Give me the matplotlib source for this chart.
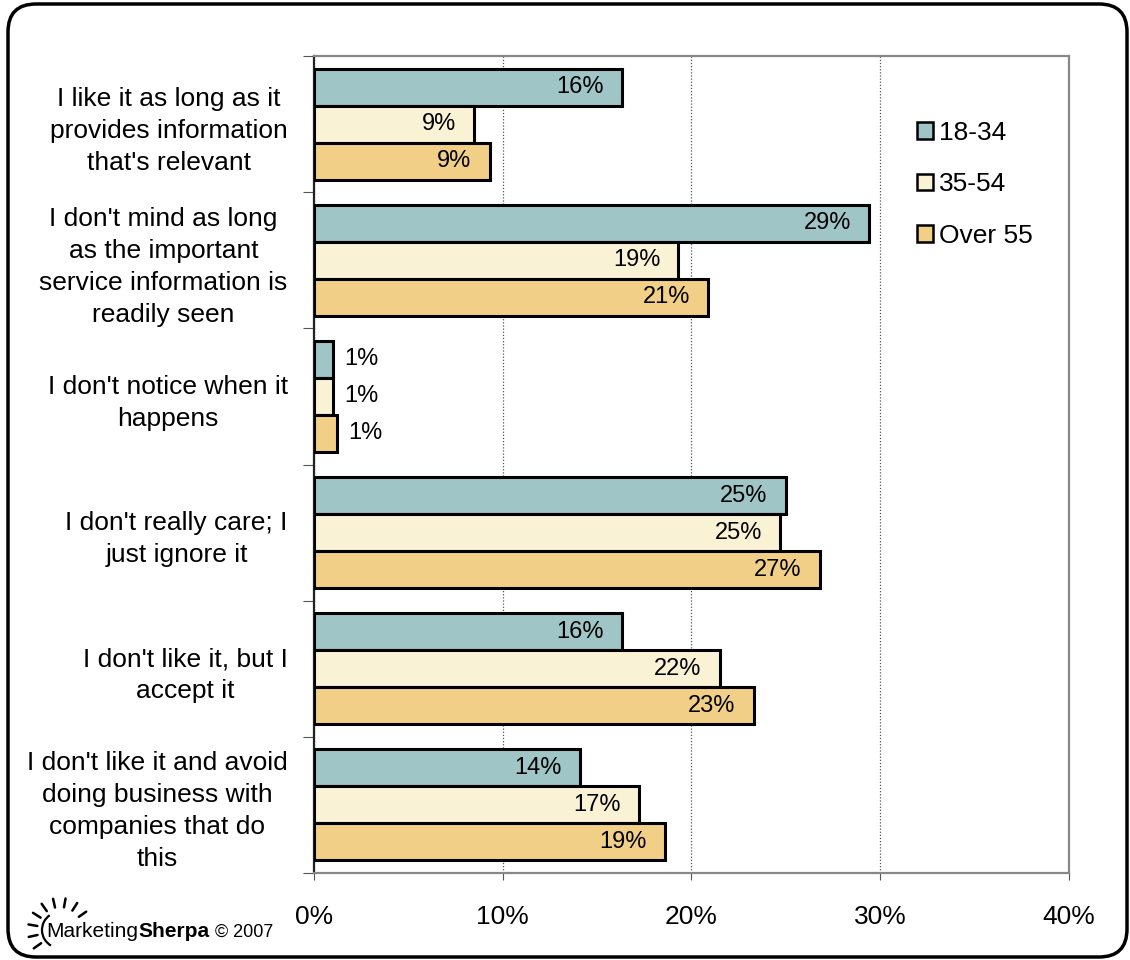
import matplotlib.pyplot as plt
from matplotlib.patches import FancyBboxPatch, Arc
import numpy as np

plt.rcParams['font.family'] = ['Liberation Sans', 'DejaVu Sans']

categories = [
    "I like it as long as it\nprovides information\nthat's relevant",
    "I don't mind as long\nas the important\nservice information is\nreadily seen",
    "I don't notice when it\nhappens",
    "I don't really care; I\njust ignore it",
    "I don't like it, but I\naccept it",
    "I don't like it and avoid\ndoing business with\ncompanies that do\nthis",
]
series = ["18-34", "35-54", "Over 55"]
v_18_34 = [16.3, 29.4, 1.0, 25.0, 16.3, 14.1]
v_35_54 = [8.5, 19.3, 1.0, 24.7, 21.5, 17.2]
v_over55 = [9.3, 20.9, 1.2, 26.8, 23.3, 18.6]
labels_18_34 = ["16%", "29%", "1%", "25%", "16%", "14%"]
labels_35_54 = ["9%", "19%", "1%", "25%", "22%", "17%"]
labels_over55 = ["9%", "21%", "1%", "27%", "23%", "19%"]
colors = ["#9fc5c7", "#faf2d5", "#f2cf86"]

fig = plt.figure(figsize=(11.3, 9.6), dpi=100)

# overlay in pixel units for frame and logo
deco = fig.add_axes([0, 0, 1, 1])
deco.set_xlim(0, 1130)
deco.set_ylim(960, 0)
deco.axis('off')
deco.add_patch(FancyBboxPatch((8, 4), 1119, 953,
                              boxstyle="round,pad=0,rounding_size=28",
                              fill=False, edgecolor='black', linewidth=2.5))
cx, cy = 60, 930
for ang in np.linspace(35, 215, 9):
    a = np.radians(ang)
    deco.plot([cx + 23 * np.cos(a), cx + 32 * np.cos(a)],
              [cy - 23 * np.sin(a), cy - 32 * np.sin(a)],
              color='black', linewidth=1.8, solid_capstyle='round')
deco.add_patch(Arc((cx, cy), 36, 36, theta1=120, theta2=235,
                   color='black', linewidth=1.6))
t1 = deco.text(46, 937, "Marketing", fontsize=15, va='baseline')
fig.canvas.draw()
bb = t1.get_window_extent().transformed(deco.transData.inverted())
t2 = deco.text(bb.x1, 937, "Sherpa", fontsize=15, fontweight='bold', va='baseline')
fig.canvas.draw()
bb2 = t2.get_window_extent().transformed(deco.transData.inverted())
deco.text(bb2.x1 + 6, 937, "© 2007", fontsize=13, va='baseline')

ax = fig.add_axes([0.2779, 0.0906, 0.668, 0.851])
ax.set_facecolor('none')

n = len(categories)
h = 0.272
centers = np.arange(n) + 0.5
values = [v_18_34, v_35_54, v_over55]
texts = [labels_18_34, labels_35_54, labels_over55]
for i, (vals, labs, c, name) in enumerate(zip(values, texts, colors, series)):
    y = centers + (i - 1) * h
    bars = ax.barh(y, vals, height=h, color=c, edgecolor='black', linewidth=2.2,
                   label=name, zorder=3)
    for b, v, t in zip(bars, vals, labs):
        yc = b.get_y() + b.get_height() / 2
        if v < 3:
            ax.annotate(t, (v, yc), xytext=(8, 0), textcoords='offset points',
                        ha='left', va='center', fontsize=17, zorder=4)
        else:
            ax.annotate(t, (v, yc), xytext=(-13, 0), textcoords='offset points',
                        ha='right', va='center', fontsize=17, zorder=4)

ax.set_xlim(0, 40)
ax.set_ylim(n, 0)
ax.set_xticks([0, 10, 20, 30, 40])
ax.set_xticklabels(["0%", "10%", "20%", "30%", "40%"], fontsize=19)
ax.tick_params(axis='x', length=5, pad=18, color='#555555')
ax.set_yticks(np.arange(n + 1))
ax.set_yticklabels([])
ax.set_yticks(centers, minor=True)
ax.set_yticklabels(categories, minor=True, fontsize=19, ha='right',
                   multialignment='center', linespacing=1.42)
ax.tick_params(axis='y', which='minor', length=0, pad=19)
ax.tick_params(axis='y', which='major', length=8, color='#555555')
ax.xaxis.grid(True, linestyle=(0, (1, 1.5)), color='#555555', linewidth=0.9, zorder=0)
for s in ['top', 'right', 'bottom']:
    ax.spines[s].set_color('#888888')
    ax.spines[s].set_linewidth(1.6)
ax.spines['left'].set_color('#222222')
ax.spines['left'].set_linewidth(1.6)

leg = ax.legend(loc='upper left', bbox_to_anchor=(0.768, 0.95), frameon=False,
                fontsize=19, handlelength=0.6, handleheight=0.6,
                handletextpad=0.2, labelspacing=1.05)
for p in leg.get_patches():
    p.set_linewidth(1.8)

fig.savefig("out.png", dpi=100)
